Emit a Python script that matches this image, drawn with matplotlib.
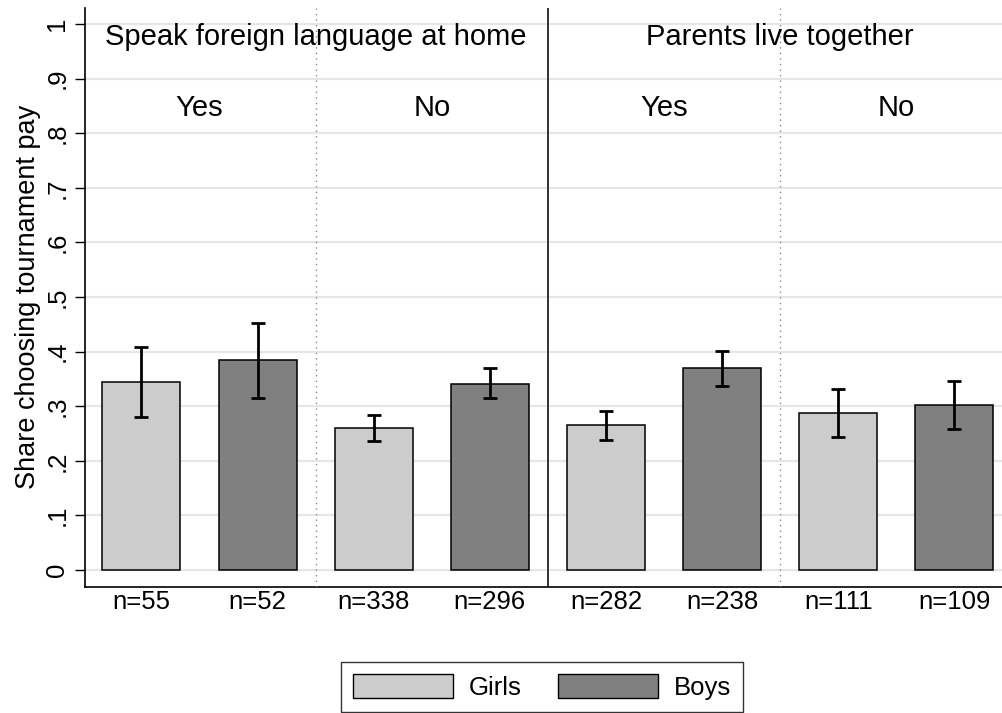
import numpy as np
import matplotlib
matplotlib.use("Agg")
import matplotlib.pyplot as plt
from matplotlib.patches import Patch

plt.rcParams['font.family'] = ['Liberation Sans', 'DejaVu Sans']
plt.rcParams['font.size'] = 18.5

# values: groups are foreign-yes, foreign-no, parents-yes, parents-no
girls = [0.345, 0.260, 0.266, 0.288]
boys = [0.384, 0.341, 0.370, 0.302]
girls_lo = [0.280, 0.236, 0.239, 0.244]
girls_hi = [0.409, 0.284, 0.291, 0.331]
boys_lo = [0.316, 0.315, 0.338, 0.258]
boys_hi = [0.452, 0.370, 0.401, 0.346]
n_girls = [55, 338, 282, 111]
n_boys = [52, 296, 238, 109]
sub_labels = ["Yes", "No", "Yes", "No"]
panel_titles = ["Speak foreign language at home", "Parents live together"]

c_girls = '#cccccc'
c_boys = '#808080'

fig = plt.figure(figsize=(10.03, 7.13), dpi=100)
ax = fig.add_axes([0.0852, 0.1771, 0.9138, 0.8113])

x_girls = np.arange(4) * 2
x_boys = x_girls + 1
w = 0.672

# gridlines first
for yv in np.arange(0, 1.01, 0.1):
    ax.axhline(yv, color='#e6e6e6', lw=1.5, zorder=0)

err_kw = dict(fmt='none', ecolor='black', elinewidth=2.0, capsize=5, capthick=2.0, zorder=4)
ax.bar(x_girls, girls, width=w, color=c_girls, edgecolor='black', linewidth=1.1, zorder=2)
ax.bar(x_boys, boys, width=w, color=c_boys, edgecolor='black', linewidth=1.1, zorder=2)
ax.errorbar(x_girls, girls, yerr=[np.subtract(girls, girls_lo), np.subtract(girls_hi, girls)], **err_kw)
ax.errorbar(x_boys, boys, yerr=[np.subtract(boys, boys_lo), np.subtract(boys_hi, boys)], **err_kw)

# separators
ax.axvline(3.5, color='#222222', lw=1.3, zorder=3)
for xv in (1.5, 5.5):
    ax.axvline(xv, color='#888888', lw=1.0, ls=(0, (1, 3)), zorder=3)

ax.set_xlim(-0.482, 7.41)
ax.set_ylim(-0.0306, 1.029)

# headers
for i, t in enumerate(panel_titles):
    ax.text(1.5 + 4 * i, 0.962, t, ha='center', va='baseline', fontsize=21)
for i, t in enumerate(sub_labels):
    ax.text(0.5 + 2 * i, 0.831, t, ha='center', va='baseline', fontsize=21)

# n labels
xs = np.ravel(np.column_stack([x_girls, x_boys]))
ns = np.ravel(np.column_stack([n_girls, n_boys]))
ax.set_xticks(xs)
ax.set_xticklabels([f"n={v}" for v in ns])
ax.tick_params(axis='x', length=0, pad=2.5)

ax.set_yticks(np.arange(0, 1.01, 0.1))
ax.set_yticklabels(['0', '.1', '.2', '.3', '.4', '.5', '.6', '.7', '.8', '.9', '1'],
                   rotation=90, va='center')
ax.tick_params(axis='y', length=7.2, width=1.0, pad=4.5)

for s in ('top', 'right'):
    ax.spines[s].set_visible(False)
for s in ('left', 'bottom'):
    ax.spines[s].set_linewidth(1.2)

fig.text(28 / 1003, 1 - 297 / 713, "Share choosing tournament pay", rotation=90,
         ha='center', va='center', fontsize=19.5)

handles = [Patch(facecolor=c_girls, edgecolor='black', linewidth=1.0, label='Girls'),
           Patch(facecolor=c_boys, edgecolor='black', linewidth=1.0, label='Boys')]
leg = fig.legend(handles=handles, loc='center', bbox_to_anchor=(542 / 1003, 1 - 687 / 713),
                 ncol=2, frameon=True, fancybox=False, edgecolor='black',
                 handlelength=3.9, handleheight=1.08, handletextpad=0.62,
                 columnspacing=1.4, borderpad=0.45, fontsize=18.5)
leg.get_frame().set_linewidth(1.0)

fig.savefig('out.png', dpi=100)
